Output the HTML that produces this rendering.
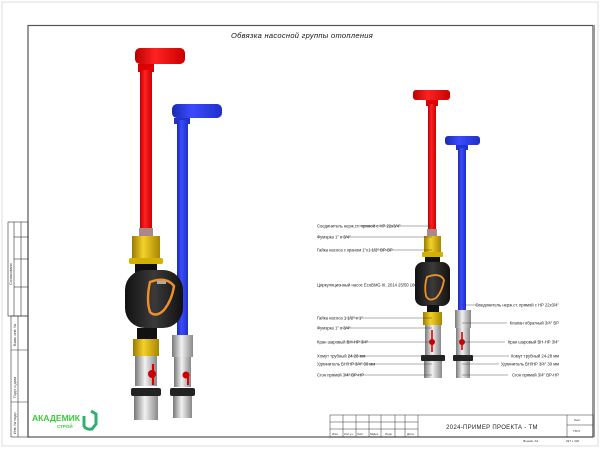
<!DOCTYPE html>
<html><head><meta charset="utf-8"><style>
html,body{margin:0;padding:0;background:#fff;}
svg{display:block;font-family:"Liberation Sans",sans-serif;}
.lb{font-size:4.2px;fill:#222;}
</style></head><body>
<svg width="600" height="464" viewBox="0 0 600 464" xmlns="http://www.w3.org/2000/svg">
<defs>
<linearGradient id="red" x1="0" x2="1"><stop offset="0" stop-color="#b00"/><stop offset=".4" stop-color="#f22"/><stop offset="1" stop-color="#c00"/></linearGradient>
<linearGradient id="blue" x1="0" x2="1"><stop offset="0" stop-color="#1a2ab0"/><stop offset=".4" stop-color="#3a4cff"/><stop offset="1" stop-color="#1f2fc8"/></linearGradient>
<linearGradient id="yel" x1="0" x2="1"><stop offset="0" stop-color="#9a7a00"/><stop offset=".4" stop-color="#f3d12a"/><stop offset="1" stop-color="#a88600"/></linearGradient>
<linearGradient id="sil" x1="0" x2="1"><stop offset="0" stop-color="#777"/><stop offset=".45" stop-color="#f2f2f2"/><stop offset="1" stop-color="#888"/></linearGradient>
<linearGradient id="blk" x1="0" x2="1"><stop offset="0" stop-color="#111"/><stop offset=".5" stop-color="#3a3a3a"/><stop offset="1" stop-color="#111"/></linearGradient>
</defs>
<rect x="2" y="2" width="596" height="444" fill="none" stroke="#ddd" stroke-width="1"/>
<rect x="28" y="25.5" width="565" height="411.5" fill="none" stroke="#555" stroke-width="1.2"/>
<rect x="593" y="25" width="2" height="412" fill="#999"/>
<g fill="none" stroke="#333" stroke-width="0.6">
<rect x="8" y="222" width="20" height="94"/>
<line x1="14" y1="222" x2="14" y2="316"/><line x1="21" y1="222" x2="21" y2="316"/>
<line x1="14" y1="237" x2="28" y2="237"/><line x1="14" y1="259" x2="28" y2="259"/><line x1="14" y1="287" x2="28" y2="287"/>
<rect x="11" y="316" width="17" height="121"/>
<line x1="18" y1="316" x2="18" y2="437"/>
<line x1="11" y1="350" x2="28" y2="350"/><line x1="11" y1="402" x2="28" y2="402"/>
</g>
<g font-size="3.6" fill="#333">
<text transform="translate(12,285) rotate(-90)">Согласовано</text>
<text transform="translate(16,346) rotate(-90)">Взам. инв. №</text>
<text transform="translate(16,398) rotate(-90)">Подп. и дата</text>
<text transform="translate(16,434) rotate(-90)">Инв. № подл.</text>
</g>
<text x="302" y="38" font-size="7.5" font-style="italic" fill="#111" text-anchor="middle" letter-spacing="0.3">Обвязка насосной группы отопления</text>

<!-- LEFT ASSEMBLY -->
<rect x="172" y="104" width="50" height="14" rx="5" fill="url(#blue)"/>
<rect x="174" y="118" width="16" height="6" fill="#2233cc"/>
<rect x="177" y="120" width="11" height="215" fill="url(#blue)"/>
<rect x="172" y="335" width="21" height="22" fill="url(#sil)"/>
<rect x="174" y="357" width="17" height="30" fill="url(#sil)"/>
<rect x="170" y="388" width="25" height="8" rx="2" fill="#222"/>
<rect x="173" y="396" width="19" height="22" fill="url(#sil)"/>
<line x1="188" y1="374" x2="188" y2="385" stroke="#d00" stroke-width="2"/>
<circle cx="186" cy="375" r="3.5" fill="#c00"/>
<rect x="135" y="48" width="50" height="16" rx="5" fill="url(#red)"/>
<rect x="138" y="64" width="16" height="8" fill="#d00"/>
<rect x="140" y="70" width="12" height="166" fill="url(#red)"/>
<rect x="139" y="228" width="14" height="8" fill="#a88"/>
<rect x="132" y="236" width="28" height="24" fill="url(#yel)"/>
<rect x="129" y="258" width="34" height="6" rx="2" fill="#d4b000"/>
<rect x="135" y="264" width="22" height="10" fill="#111"/>
<rect x="125" y="270" width="58" height="58" rx="20" fill="url(#blk)"/>
<path d="M150 282 Q166 276 174 286 Q172 300 164 310 Q156 318 150 312 Q146 300 150 282 Z" fill="none" stroke="#f0902a" stroke-width="2.4"/>
<rect x="157" y="281" width="9" height="3" fill="#aaa"/>
<rect x="137" y="328" width="20" height="12" fill="#111"/>
<rect x="133" y="339" width="26" height="17" fill="url(#yel)"/>
<rect x="135" y="356" width="22" height="30" fill="url(#sil)"/>
<line x1="153" y1="364" x2="153" y2="385" stroke="#d00" stroke-width="2.2"/>
<circle cx="152" cy="374" r="4" fill="#c00"/>
<rect x="131" y="388" width="30" height="8" rx="2" fill="#222"/>
<rect x="134" y="396" width="24" height="24" fill="url(#sil)"/>

<!-- RIGHT ASSEMBLY -->
<rect x="445" y="136" width="35" height="9" rx="3" fill="url(#blue)"/>
<rect x="456" y="145" width="12" height="5" fill="#2233cc"/>
<rect x="458" y="148" width="8" height="162" fill="url(#blue)"/>
<rect x="455" y="310" width="16" height="18" fill="url(#sil)"/>
<rect x="456" y="328" width="14" height="28" fill="url(#sil)"/>
<rect x="453" y="355" width="20" height="6" rx="1" fill="#222"/>
<rect x="456" y="361" width="14" height="17" fill="url(#sil)"/>
<line x1="462" y1="332" x2="462" y2="350" stroke="#d00" stroke-width="1.6"/>
<circle cx="462" cy="342" r="3" fill="#c00"/>
<rect x="413" y="90" width="37" height="10" rx="3" fill="url(#red)"/>
<rect x="426" y="100" width="12" height="6" fill="#d00"/>
<rect x="428" y="104" width="8" height="126" fill="url(#red)"/>
<rect x="427" y="229" width="10" height="7" fill="#a88"/>
<rect x="424" y="236" width="17" height="17" fill="url(#yel)"/>
<rect x="422" y="252" width="21" height="5" rx="1" fill="#d4b000"/>
<rect x="425" y="257" width="15" height="6" fill="#111"/>
<rect x="415" y="262" width="35" height="44" rx="8" fill="url(#blk)"/>
<path d="M427 277 Q440 272 444 280 Q442 292 436 298 Q429 302 426 296 Q424 286 427 277 Z" fill="none" stroke="#f0902a" stroke-width="1.8"/>
<rect x="427" y="305" width="12" height="8" fill="#111"/>
<rect x="423" y="312" width="19" height="13" fill="url(#yel)"/>
<rect x="425" y="325" width="16" height="32" fill="url(#sil)"/>
<line x1="432" y1="330" x2="432" y2="352" stroke="#d00" stroke-width="1.6"/>
<circle cx="432" cy="342" r="3" fill="#c00"/>
<rect x="421" y="355" width="24" height="6" rx="1" fill="#222"/>
<rect x="424" y="361" width="18" height="17" fill="url(#sil)"/>

<g stroke="#333" stroke-width="0.4">
<line x1="358" y1="226" x2="432" y2="226"/>
<line x1="340" y1="237" x2="432" y2="237"/>
<line x1="370" y1="250" x2="432" y2="250"/>
<line x1="345" y1="318" x2="432" y2="318"/>
<line x1="340" y1="328" x2="432" y2="328"/>
<line x1="346" y1="342" x2="432" y2="342"/>
<line x1="348" y1="356" x2="432" y2="356"/>
<line x1="351" y1="364" x2="432" y2="364"/>
<line x1="345" y1="375" x2="432" y2="375"/>
<line x1="462" y1="305" x2="480" y2="305"/>
<line x1="462" y1="323" x2="507" y2="323"/>
<line x1="462" y1="342" x2="505" y2="342"/>
<line x1="462" y1="356" x2="509" y2="356"/>
<line x1="462" y1="364" x2="499" y2="364"/>
<line x1="462" y1="375" x2="508" y2="375"/>
</g>
<g class="lb">
<text x="317" y="227.5">Соединитель нерж.ст. прямой с НР 22х3/4"</text>
<text x="317" y="238.5">Фумэрка 1" х 3/4"</text>
<text x="317" y="251.5">Гайка насоса с краном 1"х1 1/2" ВР-ВР</text>
<text x="317" y="286.5">Циркуляционный насос EcoBMG III, 2014 25/50 180</text>
<text x="317" y="319.5">Гайка насоса 1 1/2" х 1"</text>
<text x="317" y="329.5">Фумэрка 1" х 3/4"</text>
<text x="317" y="343.5">Кран шаровый ВН-НР 3/4"</text>
<text x="317" y="357.5">Хомут трубный 24-28 мм</text>
<text x="317" y="365.5">Удлинитель ВН/НР 3/4" 30 мм</text>
<text x="317" y="376.5">Сгон прямой 3/4" ВР-НР</text>
</g>
<g class="lb" text-anchor="end">
<text x="559" y="306.5">Соединитель нерж.ст. прямой с НР 22х3/4"</text>
<text x="559" y="324.5">Клапан обратный 3/4" ВР</text>
<text x="559" y="343.5">Кран шаровый ВН-НР 3/4"</text>
<text x="559" y="357.5">Хомут трубный 24-28 мм</text>
<text x="559" y="365.5">Удлинитель ВН/НР 3/4" 30 мм</text>
<text x="559" y="376.5">Сгон прямой 3/4" ВР-НР</text>
</g>

<text x="32" y="421" font-size="8.5" font-weight="bold" fill="#3ec83e" textLength="48" lengthAdjust="spacingAndGlyphs">АКАДЕМИК</text>
<text x="57" y="428" font-size="4.5" font-weight="bold" fill="#3ec83e">СТРОЙ</text>
<path d="M84 416 L84 426 Q86 430 92 429 L96 424 L96 414 L91 411" fill="none" stroke="#2fb070" stroke-width="3"/>

<g fill="none" stroke="#333" stroke-width="0.5">
<rect x="330" y="415" width="263" height="22"/>
<line x1="343" y1="415" x2="343" y2="437"/><line x1="356" y1="415" x2="356" y2="437"/>
<line x1="369" y1="415" x2="369" y2="437"/><line x1="381" y1="415" x2="381" y2="437"/>
<line x1="395" y1="415" x2="395" y2="437"/><line x1="405" y1="415" x2="405" y2="437"/>
<line x1="418" y1="415" x2="418" y2="437"/>
<line x1="330" y1="422" x2="418" y2="422"/><line x1="330" y1="429" x2="418" y2="429"/>
<line x1="567" y1="415" x2="567" y2="437"/><line x1="567" y1="425" x2="593" y2="425"/>
</g>
<g font-size="3" fill="#333">
<text x="332" y="435">Изм.</text><text x="344" y="435">Кол.уч</text><text x="357" y="435">Лист</text>
<text x="370" y="435">№Док</text><text x="385" y="435">Подп.</text><text x="407" y="435">Дата</text>
<text x="574" y="421">Лист</text><text x="573" y="432">ТМ-5</text>
<text x="523" y="442">Формат А3</text><text x="566" y="442">297 х 420</text>
</g>
<text x="492" y="429" font-size="6" fill="#222" text-anchor="middle" letter-spacing="0.3">2024-ПРИМЕР ПРОЕКТА - ТМ</text>
</svg>
</body></html>
